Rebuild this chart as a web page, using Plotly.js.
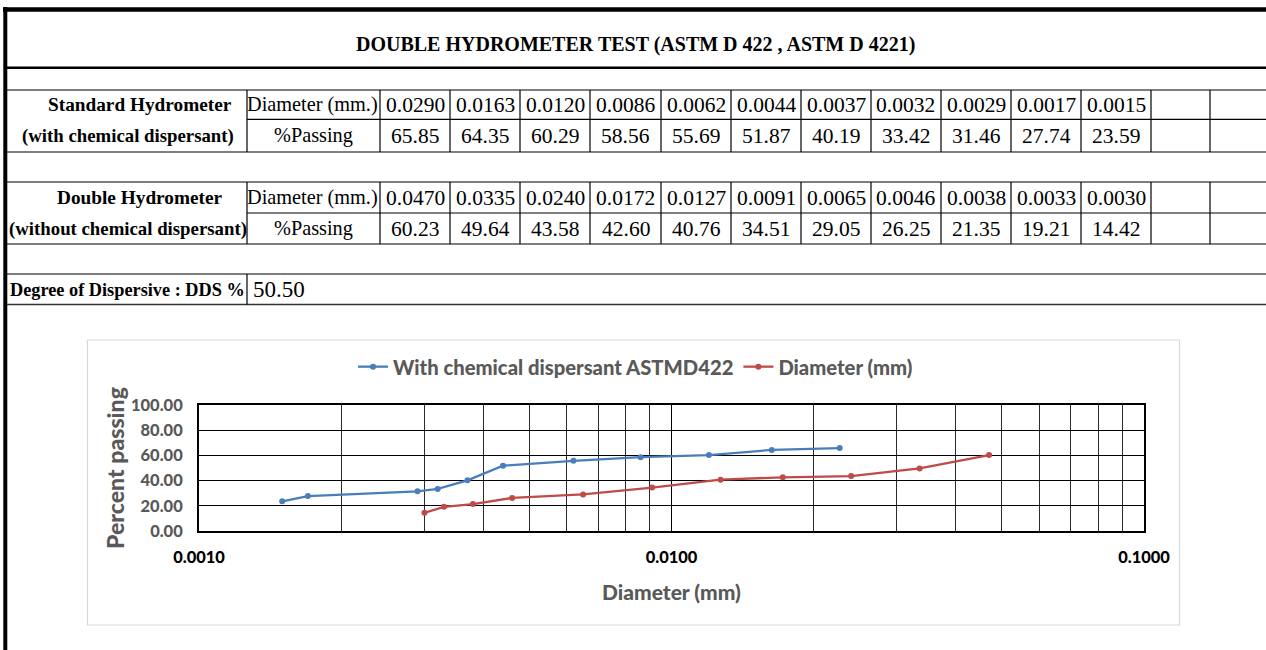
<!DOCTYPE html>
<html>
<head>
<meta charset="utf-8">
<script src="https://cdn.plot.ly/plotly-3.0.1.min.js"></script>
<style>
  html, body { margin: 0; padding: 0; background: #ffffff; }
  #chart { width: 1266px; height: 650px; }
</style>
</head>
<body>
<div id="chart"></div>
<script>
// ---------------- data ----------------
const tableTitle = "DOUBLE HYDROMETER TEST (ASTM D 422 , ASTM D 4221)";
const rowHeads = ["Diameter (mm.)", "%Passing"];

const stdLabel = ["Standard Hydrometer", "(with chemical dispersant)"];
const stdDiameter = [0.0290, 0.0163, 0.0120, 0.0086, 0.0062, 0.0044, 0.0037, 0.0032, 0.0029, 0.0017, 0.0015];
const stdPassing  = [65.85, 64.35, 60.29, 58.56, 55.69, 51.87, 40.19, 33.42, 31.46, 27.74, 23.59];

const dblLabel = ["Double Hydrometer", "(without chemical dispersant)"];
const dblDiameter = [0.0470, 0.0335, 0.0240, 0.0172, 0.0127, 0.0091, 0.0065, 0.0046, 0.0038, 0.0033, 0.0030];
const dblPassing  = [60.23, 49.64, 43.58, 42.60, 40.76, 34.51, 29.05, 26.25, 21.35, 19.21, 14.42];

const ddsLabel = "Degree of Dispersive : DDS %";
const ddsValue = 50.50;

// values as plotted in the chart (first point of the blue series sits at ~0.0227 mm in the graph)
const chartWithDiameter = [0.0227, 0.0163, 0.0120, 0.0086, 0.0062, 0.0044, 0.0037, 0.0032, 0.0029, 0.0017, 0.0015];
const chartWithPassing  = [65.85, 64.35, 60.29, 58.56, 55.69, 51.87, 40.19, 33.42, 31.46, 27.74, 23.59];
const chartWithoutDiameter = [0.0470, 0.0335, 0.0240, 0.0172, 0.0127, 0.0091, 0.0065, 0.0046, 0.0038, 0.0033, 0.0030];
const chartWithoutPassing  = [60.23, 49.64, 43.58, 42.60, 40.76, 34.51, 29.05, 26.25, 21.35, 19.21, 14.42];

const seriesNames = ["With chemical dispersant ASTMD422", "Diameter (mm)"];
const xTickVals = [0.001, 0.01, 0.1];
const xTickLabels = ["0.0010", "0.0100", "0.1000"];
const yTickVals = [0, 20, 40, 60, 80, 100];
const chartXTitle = "Diameter (mm)";
const chartYTitle = "Percent passing";

// ---------------- layout helpers ----------------
const W = 1266, H = 650;
const px = x => x / W;
const py = y => 1 - y / H;
const serif = "'Liberation Serif', 'Times New Roman', serif";
const sansFamily = "Lato, 'Liberation Sans', sans-serif";
const sansWeight = 900;
const grey = "#595959";

// font size giving a text about the width it has in the (condensed) spreadsheet chart
const ctx = document.createElement("canvas").getContext("2d");
function fitSize(str, targetWidth) {
  ctx.font = sansWeight + " 100px " + sansFamily;
  return 100 * targetWidth / ctx.measureText(str).width;
}
const legendSize = fitSize(seriesNames[0], 322) * 1.06;
const yTitleSize = fitSize(chartYTitle, 150) * 1.08;
const xTitleSize = fitSize(chartXTitle, 129) * 1.08;
const tickSize = Math.min(fitSize("100.00", 47) * 1.1, 18);

const colEdges = [247, 380, 450, 520, 590, 661, 731, 801, 871, 941, 1011, 1081, 1151, 1210];
const blocks = [
  { label: stdLabel, dia: stdDiameter, pass: stdPassing, top: 90, mid: 119.3, bot: 152 },
  { label: dblLabel, dia: dblDiameter, pass: dblPassing, top: 182, mid: 213, bot: 244 }
];

const shapes = [];
const annotations = [];
function hline(y, x0, x1, w, c) {
  shapes.push({ type: "line", xref: "paper", yref: "paper", x0: px(x0), x1: px(x1), y0: py(y), y1: py(y),
                line: { color: c || "#000", width: w || 1 } });
}
function vline(x, y0, y1, w, c) {
  shapes.push({ type: "line", xref: "paper", yref: "paper", x0: px(x), x1: px(x), y0: py(y0), y1: py(y1),
                line: { color: c || "#000", width: w || 1 } });
}
function text(t, x, y, opts) {
  opts = opts || {};
  annotations.push({ text: t, xref: "paper", yref: "paper", x: px(x), y: py(y), showarrow: false,
    xanchor: opts.anchor || "center", yanchor: "middle",
    font: { family: opts.family || serif, size: opts.size || 20.5, color: opts.color || "#000",
            weight: opts.bold ? 700 : 400 } });
}

// frame
hline(9.5, 3, W, 4.5);
vline(5.3, 7, H, 4);
// title
text(tableTitle, 635, 45, { bold: true, size: 20 });
hline(67.7, 7, W, 2.5);

// data blocks
blocks.forEach(b => {
  hline(b.top, 7, W, 1.2);
  hline(b.mid, colEdges[0], W, 1.2);
  hline(b.bot, 7, W, 1.2);
  colEdges.forEach(x => vline(x, b.top, b.bot, 1.2));
  const yr1 = (b.top + b.mid) / 2, yr2 = (b.mid + b.bot) / 2;
  text(b.label[0], 140, yr1, { bold: true, size: 19.3 });
  text(b.label[1], 128, yr2, { bold: true, size: 18.8 });
  text(rowHeads[0], (colEdges[0] + colEdges[1]) / 2 - 1, yr1, { size: 20.3 });
  text(rowHeads[1], (colEdges[0] + colEdges[1]) / 2, yr2, { size: 20.3 });
  b.dia.forEach((d, i) => {
    const cx = (colEdges[i + 1] + colEdges[i + 2]) / 2;
    text(d.toFixed(4), cx, yr1, { size: 21.5 });
    text(b.pass[i].toFixed(2), cx, yr2, { size: 21.5 });
  });
});

// DDS row
hline(274, 7, W, 1.2);
hline(304.5, 7, W, 1.6, "#333");
vline(colEdges[0], 274, 304.5, 1.2);
text(ddsLabel, 127, 289.5, { bold: true, size: 18.3 });
text(ddsValue.toFixed(2), 251, 289.5, { size: 23, anchor: "left" });

// chart area border
shapes.push({ type: "rect", xref: "paper", yref: "paper", x0: px(87.5), x1: px(1179.5), y0: py(340), y1: py(625),
              line: { color: "#d9d9d9", width: 1.2 }, fillcolor: "rgba(0,0,0,0)", layer: "below" });

// minor gridline positions (axis config, 2..9 per decade)
const minorVals = [];
[0.001, 0.01].forEach(dec => { for (let k = 2; k <= 9; k++) minorVals.push(k * dec); });

const traces = [
  { x: chartWithDiameter, y: chartWithPassing, name: seriesNames[0], type: "scatter", mode: "lines+markers",
    line: { color: "#4A7EBB", width: 2.3 }, marker: { symbol: "circle", size: 6, color: "#4A7EBB" } },
  { x: chartWithoutDiameter, y: chartWithoutPassing, name: seriesNames[1], type: "scatter", mode: "lines+markers",
    line: { color: "#BE4B48", width: 2.3 }, marker: { symbol: "circle", size: 6, color: "#BE4B48" } }
];

const layout = {
  width: W, height: H,
  margin: { l: 0, r: 0, t: 0, b: 0, pad: 0 },
  paper_bgcolor: "#ffffff", plot_bgcolor: "rgba(0,0,0,0)",
  showlegend: true,
  legend: { orientation: "h", x: 0.502, xanchor: "center", y: py(367), yanchor: "middle",
            font: { family: sansFamily, size: legendSize, color: grey, weight: sansWeight }, itemwidth: 30,
            bgcolor: "rgba(0,0,0,0)" },
  xaxis: {
    type: "log", domain: [px(199), px(1144)], range: [-3, -1], autorange: false,
    tickvals: xTickVals, ticktext: xTickLabels, ticks: "", ticklabelstandoff: 10,
    tickfont: { family: sansFamily, size: tickSize, color: "#000", weight: sansWeight },
    showgrid: true, gridcolor: "#000", gridwidth: 1,
    minor: { tickvals: minorVals, showgrid: true, gridcolor: "#2a2a2a", gridwidth: 1, ticks: "" },
    showline: true, mirror: true, linecolor: "#000", linewidth: 2,
    zeroline: false, automargin: false,
    title: { text: chartXTitle, standoff: 20, font: { family: sansFamily, size: xTitleSize, color: grey, weight: sansWeight } }
  },
  yaxis: {
    domain: [py(531), py(405)], range: [0, 100], autorange: false,
    tickvals: yTickVals, tickformat: ".2f", ticks: "", ticklabelstandoff: 11,
    tickfont: { family: sansFamily, size: tickSize, color: grey, weight: sansWeight },
    showgrid: true, gridcolor: "#000", gridwidth: 1,
    showline: true, mirror: true, linecolor: "#000", linewidth: 2,
    zeroline: false, automargin: false,
    title: { text: chartYTitle, standoff: 0, font: { family: sansFamily, size: yTitleSize, color: grey, weight: sansWeight } }
  },
  shapes: shapes,
  annotations: annotations
};

Plotly.newPlot("chart", traces, layout, { displayModeBar: false, staticPlot: true });
</script>
</body>
</html>
